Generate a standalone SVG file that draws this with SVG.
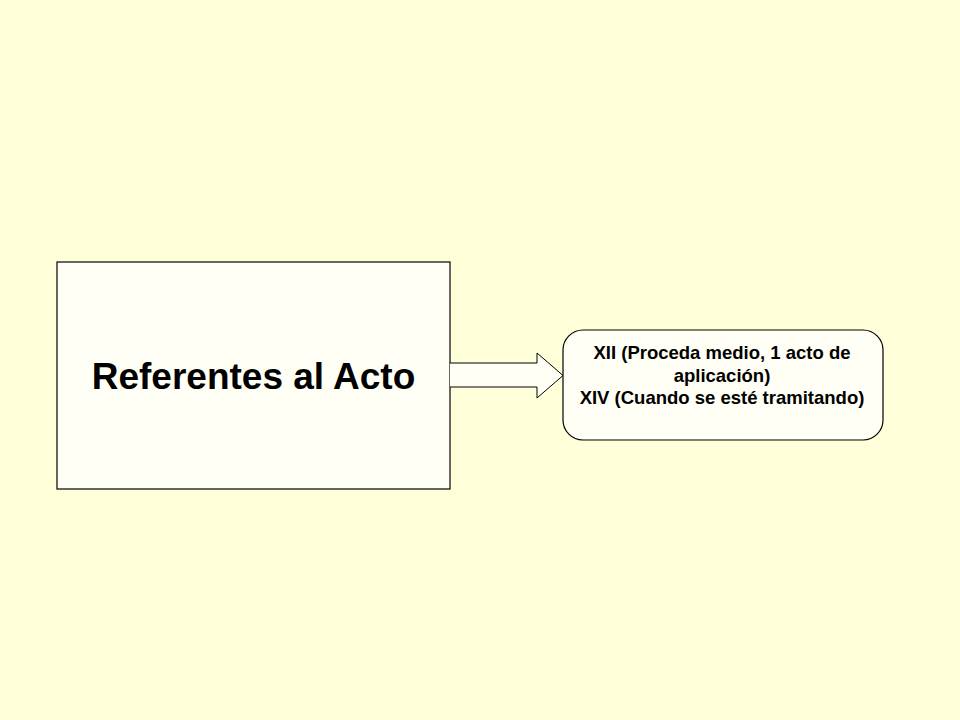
<svg xmlns="http://www.w3.org/2000/svg" width="960" height="720" viewBox="0 0 960 720">
<style>
.box{fill:#FFFFF5;stroke:#000;stroke-width:1.2}
.t{font-family:"Liberation Sans",Arial,sans-serif;font-weight:bold;fill:#000;text-anchor:middle}
</style>
<rect width="960" height="720" fill="#FFFFD9"/>
<g id="node-referentes">
<rect class="box" x="57" y="262" width="393" height="227"/>
<text class="t" x="253.5" y="389" font-size="37">Referentes al Acto</text>
</g>
<g id="connectors">
<path d="M450,363 L537,363 L537,353 L563,375.5 L537,398 L537,387 L450,387" fill="#FFFFF5" stroke="#000" stroke-width="1"/>
</g>
<g id="node-fracciones">
<rect class="box" x="563" y="330" width="320" height="110" rx="20" ry="20"/>
<text class="t" font-size="18.5" x="722" y="358.5">XII (Proceda medio, 1 acto de</text>
<text class="t" font-size="18.5" x="722" y="381.5">aplicación)</text>
<text class="t" font-size="18.5" x="722" y="404">XIV (Cuando se esté tramitando)</text>
</g>
</svg>
